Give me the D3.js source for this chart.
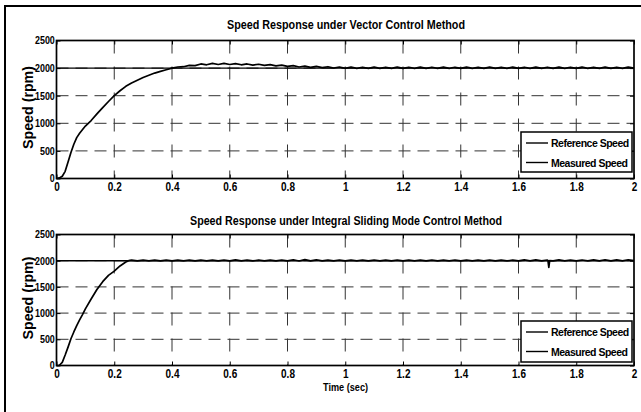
<!DOCTYPE html>
<html><head><meta charset="utf-8">
<script src="https://cdn.jsdelivr.net/npm/d3@7"></script>
<style>body{margin:0;background:#fff}svg{display:block}</style>
</head><body>
<svg id="c" width="641" height="412"></svg>
<script>
// ---------- data ----------
const xTicks = [0,0.2,0.4,0.6,0.8,1,1.2,1.4,1.6,1.8,2];
const xTickLabels = ["0","0.2","0.4","0.6","0.8","1","1.2","1.4","1.6","1.8","2"];
const yTicks = [0,500,1000,1500,2000,2500];
const yTickLabels = ["0","500","1000","1500","2000","2500"];
const titles = ["Speed Response under Vector Control Method","Speed Response under Integral Sliding Mode Control Method"];
const yTitle = "Speed (rpm)";
const xTitle = "Time (sec)";
const legendLabels = ["Reference Speed","Measured Speed"];
const refSpeed = 2000;

// Vector control: transient
const topT = [0,0.01,0.02,0.03,0.04,0.05,0.06,0.07,0.08,0.1,0.12,0.14,0.16,0.18,0.2,0.22,0.24,0.26,0.28,0.3,0.32,0.34,0.36,0.38,0.4];
const topV = [0,10,40,130,300,470,620,740,820,950,1050,1170,1285,1395,1500,1590,1670,1730,1780,1830,1870,1910,1940,1970,2000];
// Vector control: steady part, samples every 0.02 s from 0.42 s
const topSteadyV = [2020,2025,2050,2045,2075,2060,2085,2065,2085,2065,2080,2060,2075,2055,2070,2048,2062,2040,2055,2030,
  2045,2020,2035,2012,2030,2008,2025,2002,2020,1998,
  2018,1996,2016,1995,2018,1996,2016,1995,2018,1996,2016,1995,2018,1996,2016,1995,2018,1996,2016,1995,
  2018,1996,2016,1995,2018,1996,2016,1995,2018,1996,2016,1995,2018,1996,2016,1995,2018,1996,2016,1995,
  2018,1996,2016,1995,2018,1996,2016,1995,2018,2000];

// Integral sliding mode: transient
const botT = [0,0.01,0.02,0.03,0.04,0.05,0.06,0.07,0.08,0.09,0.1,0.12,0.14,0.16,0.18,0.2,0.22,0.24,0.25];
const botV = [0,5,60,200,350,510,640,760,870,970,1080,1270,1450,1600,1720,1800,1900,1975,2000];
// steady part, samples every 0.02 s from 0.26 s
const botSteadyV = [2012,1996,2012,1997,2010,1996,2012,1997,2010,1996,2012,1997,2011,1996,2010,1997,2012,1996,2015,1997,
  2012,1996,2010,1997,2012,1996,2010,1997,2018,1995,2020,1996,2018,1997,2012,1996,2010,1997,
  2012,1997,2012,1996,2010,1997,2012,1996,2010,1997,2012,1996,2010,1997,2012,1996,2010,1997,2012,1996,2010,1997,
  2012,1996,2010,1997,2012,1996,2010,1997,2015,1996,2015,1997,2012,1996,2015,1997,2012,1996,2014,1997,
  2015,1996,2018,1997,2016,1996,2018,2000];
const botDipT = [1.702,1.705,1.708];
const botDipV = [2000,1870,2000];

// ---------- build series ----------
function steady(start, vals){ return vals.map((v,i)=>({t:+(start+0.02*i).toFixed(3), v})); }
const topSeries = topT.map((t,i)=>({t, v:topV[i]})).concat(steady(0.42, topSteadyV));
const botSeries = botT.map((t,i)=>({t, v:botV[i]})).concat(steady(0.26, botSteadyV))
  .concat(botDipT.map((t,i)=>({t, v:botDipV[i]}))).sort((a,b)=>a.t-b.t);

// ---------- drawing ----------
const svg = d3.select("#c");
svg.append("rect").attr("x",0).attr("y",0).attr("width",641).attr("height",412).attr("fill","#fff");
svg.append("rect").attr("x",5).attr("y",6).attr("width",800).attr("height",600)
  .attr("fill","none").attr("stroke","#000").attr("stroke-width",2);

const x = d3.scaleLinear().domain([0,2]).range([56.5,634]);
const FONT = "'Liberation Sans', Arial, sans-serif";

const panels = [
  {y0:178.5, y1:40.5, series:topSeries, title:titles[0], titleY:28.5, titleLen:238, legY:132, legH:40},
  {y0:365.5, y1:234.5, series:botSeries, title:titles[1], titleY:225, titleLen:312, legY:321, legH:41}
];

panels.forEach((p,pi)=>{
  const y = d3.scaleLinear().domain([0,2500]).range([p.y0,p.y1]);
  const g = svg.append("g");

  // grid
  g.selectAll(".vg").data(xTicks.slice(1,-1)).join("line")
    .attr("x1",d=>x(d)).attr("x2",d=>x(d)).attr("y1",y(2500)).attr("y2",y(0))
    .attr("stroke","#333").attr("stroke-width",1).attr("stroke-dasharray","13,13");
  g.selectAll(".hg").data(yTicks.slice(1,-1)).join("line")
    .attr("x1",x(0)).attr("x2",x(2)).attr("y1",d=>y(d)).attr("y2",d=>y(d))
    .attr("stroke","#333").attr("stroke-width",1).attr("stroke-dasharray","12,7");

  // lines
  const line = d3.line().x(d=>x(d.t)).y(d=>y(d.v));
  g.append("path").datum([{t:0,v:refSpeed},{t:2,v:refSpeed}]).attr("d",line)
    .attr("fill","none").attr("stroke","#000").attr("stroke-width",1.4);
  g.append("path").datum(p.series).attr("d",line)
    .attr("fill","none").attr("stroke","#000").attr("stroke-width",1.7).attr("stroke-linejoin","round");

  // axes
  const ax = g.append("g").attr("transform",`translate(0,${p.y0})`)
    .call(d3.axisBottom(x).tickValues(xTicks).tickFormat((d,i)=>xTickLabels[i]).tickSizeInner(-4).tickSizeOuter(0).tickPadding(4));
  ax.select(".domain").remove();
  ax.selectAll("line").attr("stroke","#000");
  ax.selectAll("text").attr("font-family",FONT).attr("font-size",12.5).attr("font-weight","bold")
    .attr("fill","#000").attr("transform","scale(0.8,1)");

  const ay = g.append("g").attr("transform",`translate(${x(0)},0)`)
    .call(d3.axisLeft(y).tickValues(yTicks).tickFormat((d,i)=>yTickLabels[i]).tickSizeInner(-4).tickSizeOuter(0).tickPadding(2));
  ay.select(".domain").remove();
  ay.selectAll("line").attr("stroke","#000");
  ay.selectAll("text").attr("font-family",FONT).attr("font-size",10.5).attr("font-weight","bold").attr("fill","#000")
    .attr("transform","scale(0.85,1)");

  const at = g.append("g").attr("transform",`translate(0,${p.y1})`)
    .call(d3.axisTop(x).tickValues(xTicks).tickFormat("").tickSizeInner(-4).tickSizeOuter(0));
  at.select(".domain").remove(); at.selectAll("line").attr("stroke","#000");
  const ar = g.append("g").attr("transform",`translate(${x(2)},0)`)
    .call(d3.axisRight(y).tickValues(yTicks).tickFormat("").tickSizeInner(-4).tickSizeOuter(0));
  ar.select(".domain").remove(); ar.selectAll("line").attr("stroke","#000");

  // box
  g.append("rect").attr("x",x(0)).attr("y",y(2500)).attr("width",x(2)-x(0)).attr("height",y(0)-y(2500))
    .attr("fill","none").attr("stroke","#000").attr("stroke-width",1.7);

  // title
  g.append("text").attr("x",346).attr("y",p.titleY).attr("text-anchor","middle")
    .attr("font-family",FONT).attr("font-size",12.5).attr("font-weight","bold").attr("fill","#000")
    .attr("textLength",p.titleLen).attr("lengthAdjust","spacingAndGlyphs").text(p.title);

  // y title
  const cy = (p.y0+p.y1)/2 - 2;
  g.append("text").attr("transform",`translate(33,${cy}) rotate(-90)`).attr("text-anchor","middle")
    .attr("font-family",FONT).attr("font-size",14).attr("font-weight","bold").attr("fill","#000")
    .attr("textLength",83).attr("lengthAdjust","spacingAndGlyphs").text(yTitle);

  // legend
  const lg = g.append("g");
  lg.append("rect").attr("x",521).attr("y",p.legY).attr("width",111).attr("height",p.legH)
    .attr("fill","#fff").attr("stroke","#000").attr("stroke-width",1.5);
  legendLabels.forEach((lab,i)=>{
    const ry = p.legY + 11 + i*19.5;
    lg.append("line").attr("x1",526).attr("x2",548).attr("y1",ry).attr("y2",ry)
      .attr("stroke","#000").attr("stroke-width",1.4);
    lg.append("text").attr("x",551).attr("y",ry+4).attr("font-family",FONT).attr("font-size",10.5)
      .attr("font-weight","bold").attr("letter-spacing",-0.5).attr("fill","#000").text(lab);
  });
});

svg.append("text").attr("x",345.5).attr("y",391).attr("text-anchor","middle")
  .attr("font-family",FONT).attr("font-size",11).attr("font-weight","bold").attr("fill","#000")
  .attr("textLength",45).attr("lengthAdjust","spacingAndGlyphs").text(xTitle);
</script>
</body></html>
